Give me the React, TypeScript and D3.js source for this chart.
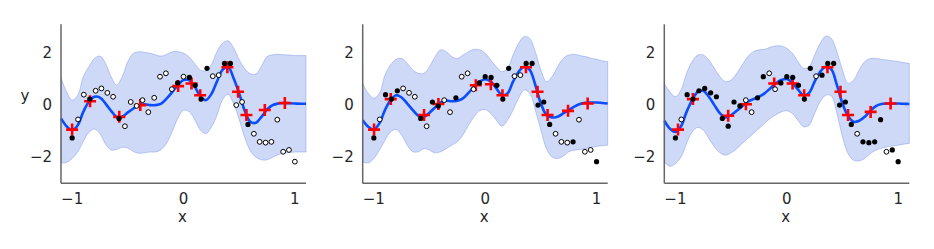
import React from "react";
import * as d3 from "d3";

// observed data (same in every panel)
const xData = [-1.0, -0.947, -0.895, -0.842, -0.789, -0.737, -0.684, -0.632, -0.579, -0.526, -0.474, -0.421, -0.368, -0.316, -0.263, -0.211, -0.158, -0.105, -0.053, 0.0, 0.053, 0.105, 0.158, 0.211, 0.263, 0.316, 0.368, 0.421, 0.474, 0.526, 0.579, 0.632, 0.684, 0.737, 0.789, 0.842, 0.895, 0.947, 1.0];
const yData = [-1.26, -0.55, 0.40, 0.23, 0.55, 0.64, 0.47, 0.32, -0.51, -0.81, 0.12, -0.03, 0.19, -0.27, 0.28, 1.09, 1.22, 0.61, 0.85, 1.09, 1.06, 0.76, 0.23, 1.41, 1.11, 1.15, 1.60, 1.60, 0.00, 0.12, -0.74, -1.10, -1.41, -1.44, -1.41, -0.56, -1.79, -1.72, -2.17];

// indices of the filled (black) points in each panel
const filled1 = [0, 3, 8, 18, 20, 21, 22, 23, 26, 27, 30];
const filled2 = [0, 2, 3, 4, 8, 10, 11, 14, 18, 19, 20, 21, 22, 23, 26, 27, 28, 29, 30, 34, 38];
const filled3 = [0, 2, 3, 4, 5, 6, 7, 8, 9, 10, 11, 14, 15, 18, 19, 20, 21, 22, 23, 25, 26, 27, 28, 29, 30, 32, 33, 34, 35, 37, 38];

// inducing points (red crosses)
const indX1 = [-1.0, -0.839, -0.577, -0.388, -0.048, 0.072, 0.15, 0.394, 0.49, 0.565, 0.73, 0.91];
const indY1 = [-0.94, 0.15, -0.45, 0.0, 0.73, 0.83, 0.38, 1.45, 0.51, -0.38, -0.19, 0.08];
const indX2 = [-0.998, -0.848, -0.549, -0.42, -0.084, 0.051, 0.155, 0.366, 0.47, 0.56, 0.744, 0.92];
const indY2 = [-0.94, 0.23, -0.38, 0.04, 0.76, 0.8, 0.38, 1.45, 0.51, -0.38, -0.22, 0.06];
const indX3 = [-0.977, -0.843, -0.526, -0.367, -0.113, 0.052, 0.156, 0.365, 0.482, 0.55, 0.753, 0.932];
const indY3 = [-0.94, 0.23, -0.41, 0.03, 0.83, 0.83, 0.38, 1.45, 0.51, -0.38, -0.26, 0.06];

// predictive curves
const gridX = [-1.1, -1.05, -1.0, -0.95, -0.9, -0.85, -0.8, -0.75, -0.7, -0.65, -0.6, -0.55, -0.5, -0.45, -0.4, -0.35, -0.3, -0.25, -0.2, -0.15, -0.1, -0.05, 0, 0.05, 0.1, 0.15, 0.2, 0.25, 0.3, 0.35, 0.4, 0.45, 0.5, 0.55, 0.6, 0.65, 0.7, 0.75, 0.8, 0.85, 0.9, 0.95, 1.0, 1.05, 1.1];

const mean1 = [-0.51, -0.81, -0.96, -0.77, -0.26, 0.13, 0.32, 0.29, 0.06, -0.22, -0.45, -0.45, -0.28, -0.13, -0.01, 0.03, 0.0, 0.0, 0.06, 0.26, 0.51, 0.77, 0.96, 0.96, 0.71, 0.35, 0.19, 0.42, 0.9, 1.35, 1.47, 1.03, 0.45, -0.22, -0.64, -0.68, -0.45, -0.17, 0.0, 0.06, 0.08, 0.07, 0.06, 0.05, 0.05];
const upper1 = [1.06, 0.51, 0.19, 0.38, 1.09, 1.47, 1.79, 1.88, 1.6, 1.09, 0.77, 1.09, 1.67, 1.99, 2.05, 2.03, 1.99, 1.93, 1.88, 1.95, 2.05, 2.05, 2.0, 1.85, 1.6, 1.35, 1.32, 1.55, 2.05, 2.37, 2.47, 2.2, 1.75, 1.4, 1.2, 1.2, 1.5, 1.86, 1.93, 1.95, 1.93, 1.92, 1.9, 1.9, 1.9];
const lower1 = [-2.22, -2.2, -2.05, -1.8, -1.4, -1.05, -0.92, -1.1, -1.5, -1.72, -1.7, -1.62, -1.65, -1.78, -1.85, -1.83, -1.8, -1.8, -1.7, -1.45, -1.0, -0.5, -0.2, -0.25, -0.55, -0.95, -1.1, -0.85, -0.4, 0.2, 0.42, 0.05, -0.55, -1.25, -1.75, -2.0, -2.1, -2.1, -2.0, -1.9, -1.85, -1.82, -1.8, -1.8, -1.8];

const mean2 = [-0.58, -0.83, -0.94, -0.7, -0.19, 0.19, 0.38, 0.29, 0.06, -0.19, -0.41, -0.45, -0.29, -0.09, 0.1, 0.17, 0.15, 0.17, 0.26, 0.47, 0.71, 0.9, 0.99, 0.9, 0.64, 0.38, 0.45, 0.9, 1.28, 1.47, 1.35, 0.77, 0.06, -0.38, -0.47, -0.45, -0.32, -0.19, -0.06, 0.04, 0.09, 0.1, 0.1, 0.08, 0.06];
const upper2 = [0.83, 0.45, 0.26, 0.45, 1.15, 1.54, 1.76, 1.79, 1.6, 1.35, 1.22, 1.22, 1.47, 1.86, 2.12, 2.05, 1.86, 1.79, 1.92, 2.05, 2.14, 2.12, 1.99, 1.73, 1.47, 1.28, 1.41, 1.92, 2.37, 2.63, 2.56, 2.05, 1.35, 0.9, 1.09, 1.47, 1.79, 1.92, 1.95, 1.9, 1.86, 1.8, 1.76, 1.7, 1.67];
const lower2 = [-2.18, -2.22, -2.05, -1.73, -1.35, -1.03, -0.94, -1.15, -1.54, -1.79, -1.79, -1.67, -1.73, -1.83, -1.79, -1.67, -1.54, -1.41, -1.15, -0.77, -0.45, -0.22, -0.17, -0.32, -0.58, -0.81, -0.58, -0.19, 0.26, 0.58, 0.45, -0.19, -0.96, -1.67, -1.99, -2.05, -1.96, -1.79, -1.73, -1.7, -1.67, -1.62, -1.58, -1.56, -1.54];

const mean3 = [-0.6, -0.9, -1.03, -0.81, -0.26, 0.19, 0.51, 0.55, 0.32, 0.0, -0.32, -0.47, -0.38, -0.22, -0.04, 0.13, 0.23, 0.32, 0.45, 0.64, 0.83, 0.96, 1.0, 0.86, 0.6, 0.38, 0.47, 0.9, 1.28, 1.47, 1.37, 0.77, 0.06, -0.42, -0.64, -0.6, -0.45, -0.22, -0.04, 0.04, 0.06, 0.06, 0.06, 0.05, 0.04];
const upper3 = [0.83, 0.51, 0.32, 0.58, 1.22, 1.67, 1.92, 1.92, 1.73, 1.41, 1.09, 0.9, 0.96, 1.22, 1.54, 1.86, 2.05, 2.12, 2.14, 2.22, 2.27, 2.27, 2.18, 1.99, 1.67, 1.41, 1.47, 1.92, 2.37, 2.65, 2.56, 2.05, 1.35, 0.83, 0.96, 1.35, 1.67, 1.79, 1.79, 1.76, 1.73, 1.7, 1.67, 1.63, 1.6];
const lower3 = [-2.18, -2.35, -2.24, -1.99, -1.47, -1.03, -0.86, -0.96, -1.28, -1.6, -1.83, -1.92, -1.83, -1.67, -1.47, -1.28, -1.09, -0.9, -0.71, -0.51, -0.38, -0.26, -0.22, -0.32, -0.58, -0.83, -0.77, -0.32, 0.13, 0.38, 0.35, -0.32, -1.22, -1.86, -2.12, -2.14, -2.05, -1.86, -1.73, -1.66, -1.6, -1.57, -1.54, -1.5, -1.47];

const xTicks = [-1, 0, 1];
const yTicks = [-2, 0, 2];
const fmt = (v: number) => (v < 0 ? "\u2212" + Math.abs(v) : String(v));

const panels = [
  { left: 61, filled: filled1, indX: indX1, indY: indY1, mean: mean1, upper: upper1, lower: lower1 },
  { left: 362.7, filled: filled2, indX: indX2, indY: indY2, mean: mean2, upper: upper2, lower: lower2 },
  { left: 664.3, filled: filled3, indX: indX3, indY: indY3, mean: mean3, upper: upper3, lower: lower3 },
];

const PW = 245;
const FONT = "DejaVu Sans, sans-serif";
const TXT = "#262626";

function Panel({ p, idx }: { p: (typeof panels)[number]; idx: number }) {
  const x = d3.scaleLinear().domain([-1.1, 1.1]).range([p.left, p.left + PW]);
  const y = d3.scaleLinear().domain([-3, 3.1]).range([183.3, 24.3]);
  const area = d3
    .area<number>()
    .x((_, i) => x(gridX[i]))
    .y0((_, i) => y(p.lower[i]))
    .y1((_, i) => y(p.upper[i]))
    .curve(d3.curveCatmullRom);
  const line = d3
    .line<number>()
    .x((_, i) => x(gridX[i]))
    .y((d) => y(d))
    .curve(d3.curveCatmullRom);
  const filledSet = new Set(p.filled);
  const [x0, x1] = x.range();
  const [yb, yt] = y.range();
  return (
    <g>
      <path d={area(gridX) || ""} fill="#4169e1" fillOpacity={0.26} stroke="#4169e1" strokeOpacity={0.3} strokeWidth={1} />
      <path d={line(p.mean) || ""} fill="none" stroke="#0a4cff" strokeWidth={2.6} />
      {p.indX.map((vx, i) => (
        <path
          key={"c" + i}
          d={`M${x(vx) - 6},${y(p.indY[i])}H${x(vx) + 6}M${x(vx)},${y(p.indY[i]) - 6}V${y(p.indY[i]) + 6}`}
          stroke="#ff0000"
          strokeWidth={2.6}
        />
      ))}
      {xData.map((vx, i) =>
        filledSet.has(i) ? (
          <circle key={"d" + i} cx={x(vx)} cy={y(yData[i])} r={2.6} fill="#000" />
        ) : (
          <circle key={"d" + i} cx={x(vx)} cy={y(yData[i])} r={2.4} fill="#fff" stroke="#000" strokeWidth={1} />
        )
      )}
      <line x1={x0} x2={x0} y1={yt} y2={yb} stroke="#666" strokeWidth={1.5} />
      <line x1={x0} x2={x1} y1={yb} y2={yb} stroke="#666" strokeWidth={1.5} />
      {yTicks.map((t) => (
        <text key={"yt" + t} x={x0 - 9} y={y(t)} textAnchor="end" dominantBaseline="central" fontFamily={FONT} fontSize={15} fill={TXT}>
          {fmt(t)}
        </text>
      ))}
      {xTicks.map((t) => (
        <text key={"xt" + t} x={x(t)} y={198.5} textAnchor="middle" dominantBaseline="central" fontFamily={FONT} fontSize={15} fill={TXT}>
          {fmt(t)}
        </text>
      ))}
      <text x={(x0 + x1) / 2 - 1} y={217} textAnchor="middle" dominantBaseline="central" fontFamily={FONT} fontSize={15} fill={TXT}>
        x
      </text>
      {idx === 0 && (
        <text x={25} y={96} textAnchor="middle" dominantBaseline="central" fontFamily={FONT} fontSize={15} fill={TXT}>
          y
        </text>
      )}
    </g>
  );
}

export default function App() {
  return (
    <svg width={934} height={249} style={{ position: "absolute", left: 0, top: 0, background: "#fff" }}>
      <rect width={934} height={249} fill="#fff" />
      {panels.map((p, i) => (
        <Panel key={i} p={p} idx={i} />
      ))}
    </svg>
  );
}
